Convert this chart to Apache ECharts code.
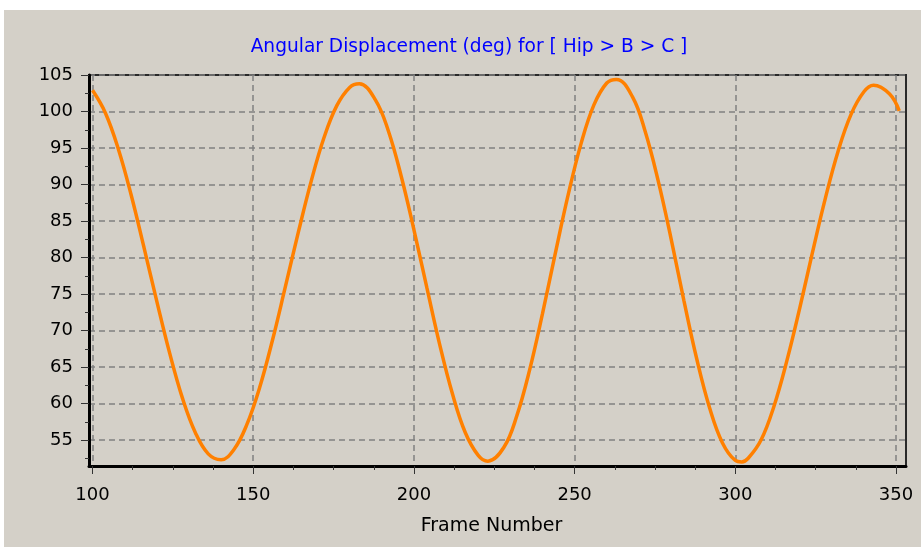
<!DOCTYPE html>
<html>
<head>
<meta charset="utf-8">
<script src="https://cdn.jsdelivr.net/npm/echarts@6/dist/echarts.min.js"></script>
<style>
  html, body { margin: 0; padding: 0; background: #ffffff; }
  #wrap { position: relative; width: 921px; height: 547px; background: #ffffff; overflow: hidden; }
  #bg { position: absolute; left: 4px; top: 10px; width: 917px; height: 537px; background: #D4D0C8; }
  #chart { position: absolute; left: 0; top: 0; width: 921px; height: 547px; }
</style>
</head>
<body>
<div id="wrap"><div id="bg"></div><div id="chart"></div></div>
<script>
// ---- data ----
var titleText = 'Angular Displacement (deg) for [ Hip > B > C ]';
var xAxisName = 'Frame Number';

var frames = [100,104,108,112,116,120,124,128,132,136,140,144,148,152,156,160,164,168,172,176,180,183,
  188,192,196,200,204,208,212,216,220,223,228,232,236,240,244,248,252,256,260,263,
  268,272,276,280,284,288,292,296,300,302,304,308,312,316,320,324,328,332,336,340,343,348,351];
var angles = [102.9,99.8,94.9,88.6,81.4,74.0,66.9,60.7,56.0,53.1,52.3,53.7,57.1,62.2,68.7,76.0,83.4,90.4,96.4,100.8,103.3,103.8,
  101.6,97.4,91.2,83.8,75.9,68.1,61.3,56.0,52.9,52.1,54.0,58.3,64.6,72.3,80.6,88.6,95.6,100.9,103.9,104.4,
  102.0,97.2,90.5,82.6,74.1,66.1,59.4,54.6,52.2,52.0,52.5,55.0,59.6,65.8,73.0,80.7,88.1,94.6,99.6,102.7,103.6,102.4,100.1];

var xTicks = [100,150,200,250,300,350];
var xMinorTicks = [112.5,125,137.5,162.5,175,187.5,212.5,225,237.5,262.5,275,287.5,312.5,325,337.5];
var yTicks = [55,60,65,70,75,80,85,90,95,100,105];
var yMinorTicks = [52.5,57.5,62.5,67.5,72.5,77.5,82.5,87.5,92.5,97.5,102.5];

var xMin = 98.9, xMax = 353.1;
var yMin = 51.44, yMax = 105;

// ---- chart ----
var points = frames.map(function (f, i) { return [f, angles[i]]; });
var FONT = 'DejaVu Sans';
var chart = echarts.init(document.getElementById('chart'), null, { renderer: 'canvas' });

var dash = { color: '#808080', width: 1.5, type: [6, 4] };

chart.setOption({
  animation: false,
  backgroundColor: 'transparent',
  title: {
    text: titleText,
    left: 464,
    top: 33,
    textAlign: 'center',
    textStyle: { color: '#0000ff', fontFamily: FONT, fontSize: 18.6, fontWeight: 'normal' }
  },
  grid: {
    left: 89, top: 75, right: 15, bottom: 81,
    show: true, borderColor: '#2a2a2a', borderWidth: 2, backgroundColor: 'transparent'
  },
  xAxis: [
    {
      type: 'value', min: xMin, max: xMax, position: 'bottom',
      name: xAxisName, nameLocation: 'middle', nameGap: 51,
      nameTextStyle: { color: '#000', fontFamily: FONT, fontSize: 19, padding: [0, 12, 0, 0] },
      axisLine: { show: true, onZero: false, lineStyle: { color: '#000', width: 3 } },
      axisTick: { show: true, customValues: xTicks, length: 8, lineStyle: { color: '#333', width: 1 } },
      axisLabel: { show: true, customValues: xTicks, margin: 20, color: '#000', fontFamily: FONT, fontSize: 18 },
      splitLine: { show: true, lineStyle: dash }
    },
    {
      type: 'value', min: xMin, max: xMax, position: 'bottom',
      axisLine: { show: false },
      axisTick: { show: true, customValues: xMinorTicks, length: 4, lineStyle: { color: '#333', width: 1 } },
      axisLabel: { show: false },
      splitLine: { show: false }
    }
  ],
  yAxis: [
    {
      type: 'value', min: yMin, max: yMax, position: 'left',
      axisLine: { show: true, onZero: false, lineStyle: { color: '#000', width: 3 } },
      axisTick: { show: true, customValues: yTicks, length: 8, lineStyle: { color: '#333', width: 1 } },
      axisLabel: { show: true, customValues: yTicks, margin: 16, color: '#000', fontFamily: FONT, fontSize: 18 },
      splitLine: { show: true, lineStyle: dash }
    },
    {
      type: 'value', min: yMin, max: yMax, position: 'left',
      axisLine: { show: false },
      axisTick: { show: true, customValues: yMinorTicks, length: 4, lineStyle: { color: '#333', width: 1 } },
      axisLabel: { show: false },
      splitLine: { show: false }
    }
  ],
  series: [
    {
      type: 'line',
      xAxisIndex: 0, yAxisIndex: 0,
      data: points,
      showSymbol: false,
      smooth: 0.4,
      lineStyle: { color: '#ff8000', width: 3.5 },
      itemStyle: { color: '#ff8000' },
      z: 5
    }
  ]
});
</script>
</body>
</html>
